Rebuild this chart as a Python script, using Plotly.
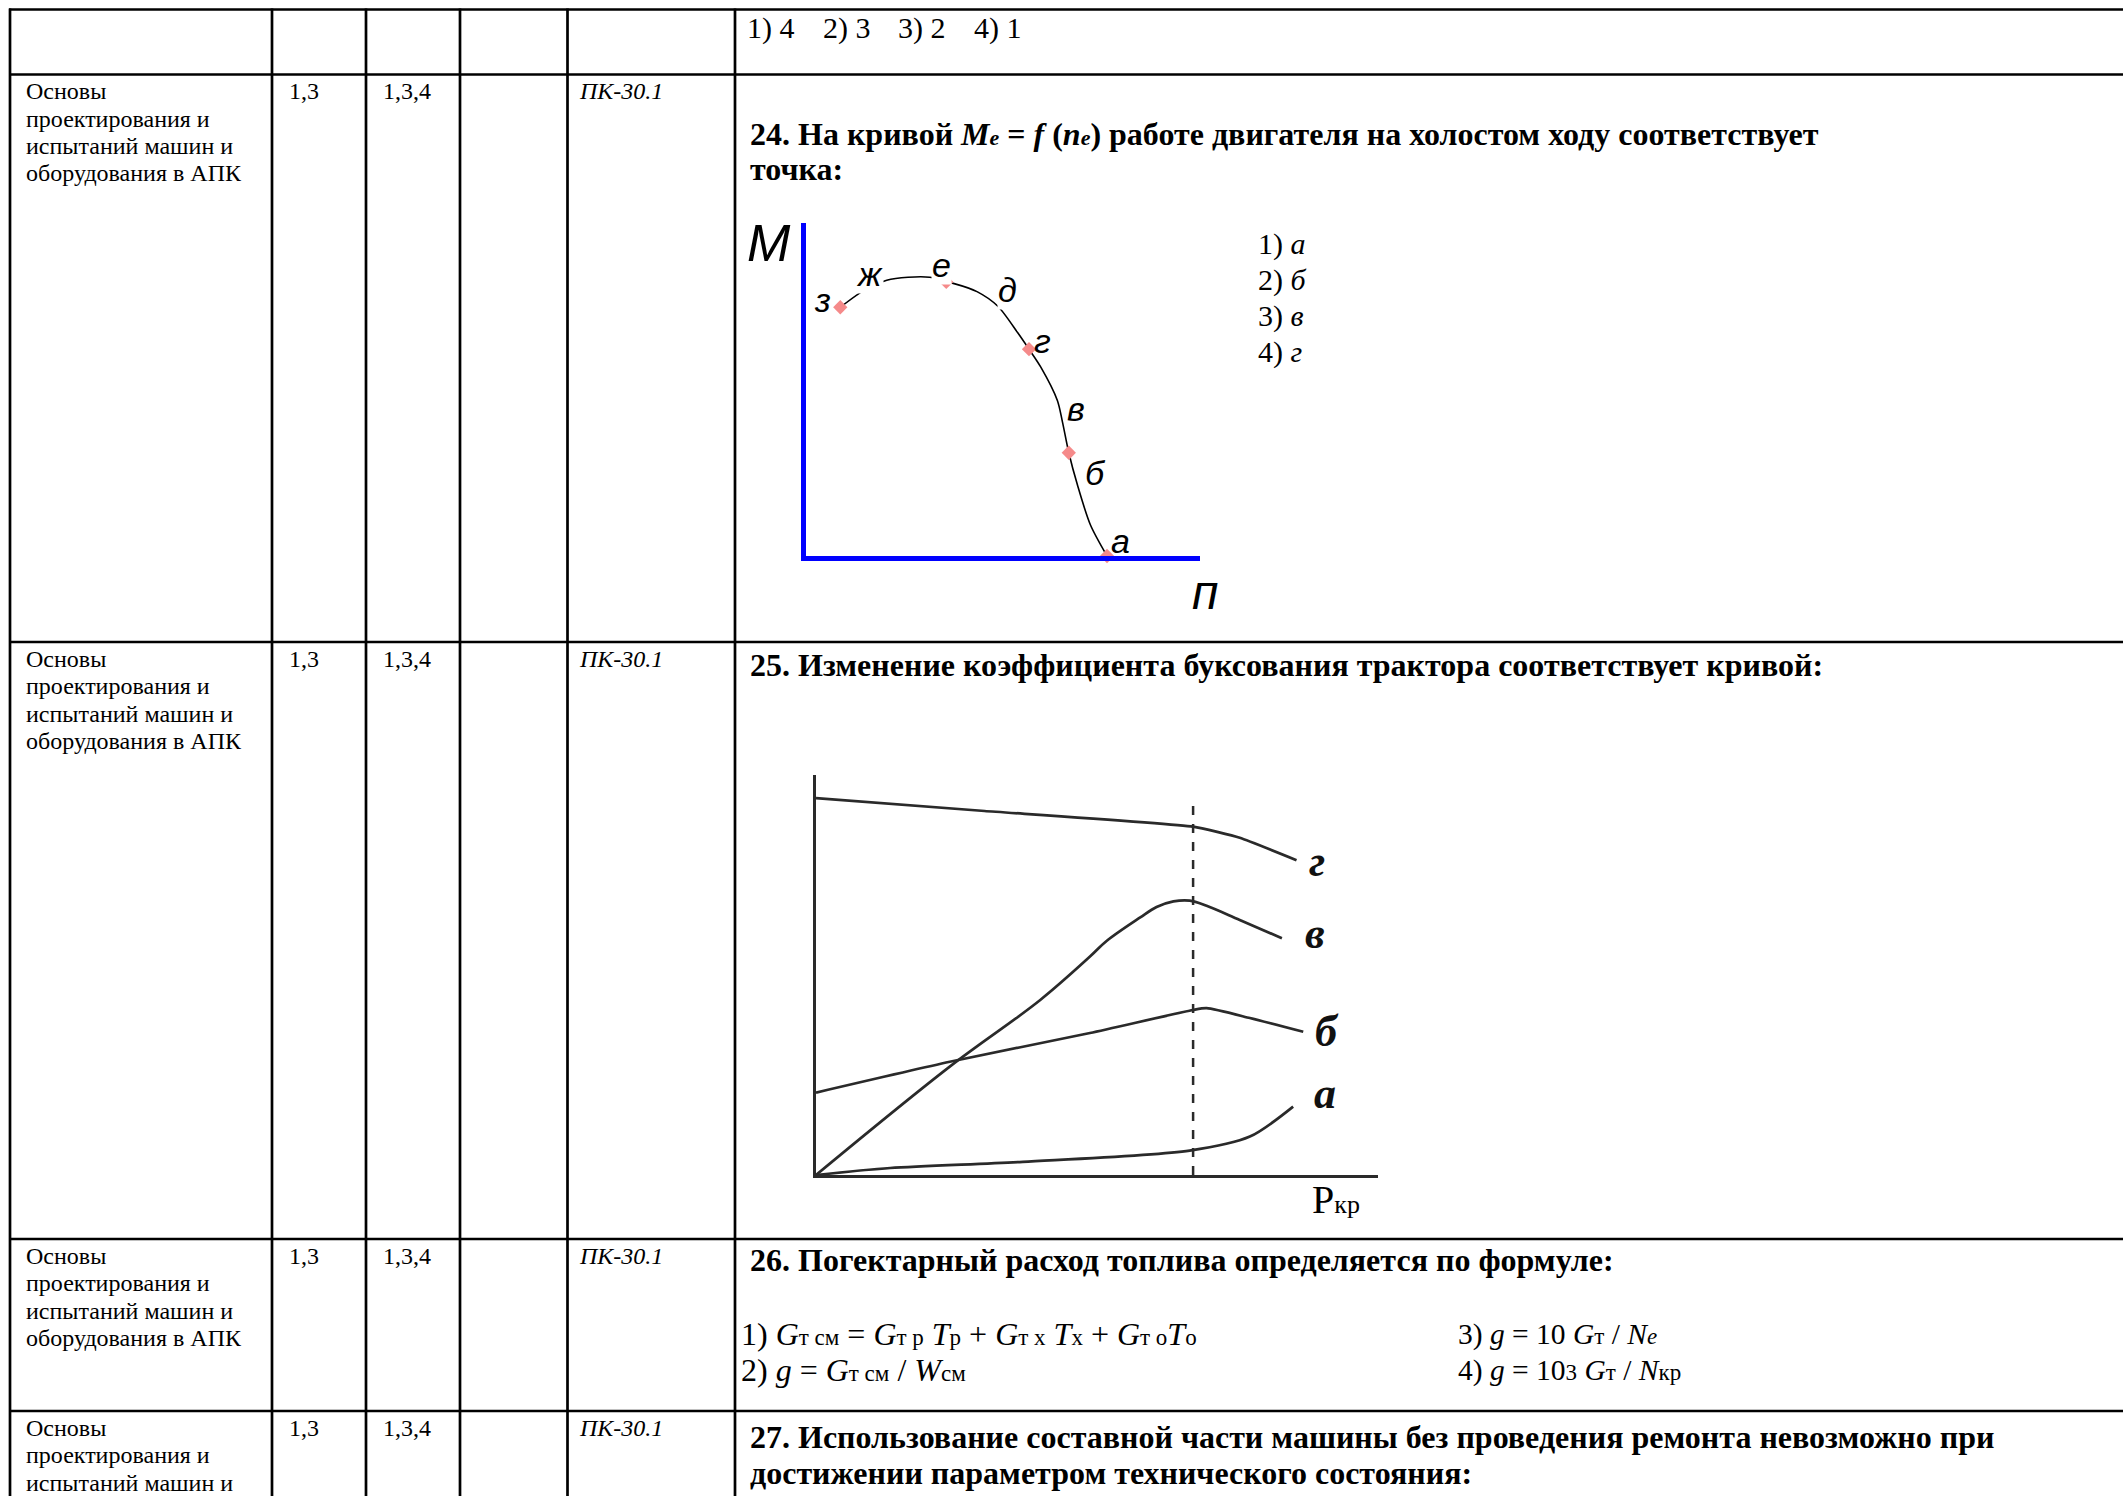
import plotly.graph_objects as go

W, H = 2123, 1496

# ---------------- data: question 24, torque curve Me = f(ne) ----------------
n_curve = [8.7, 15.0, 20.5, 25.9, 31.4, 35.6, 37.6, 43.4, 48.7, 53.7, 56.6, 59.6,
           63.8, 65.1, 66.7, 68.9, 72.2, 76.4]
M_curve = [74.7, 80.0, 82.8, 83.7, 83.7, 82.3, 81.8, 79.4, 75.0, 67.1, 62.1, 56.7,
           46.7, 40.2, 31.0, 21.3, 9.3, 0.0]
mark_n = [8.7, 35.6, 56.6, 66.7, 76.4]
mark_M = [74.7, 82.3, 62.1, 31.0, 0.0]
pt_labels = ["з", "ж", "е", "д", "г", "в", "б", "а"]
pt_lab_n = [4.2, 16.0, 34.3, 51.2, 60.0, 68.4, 73.5, 79.8]
pt_lab_M = [76.8, 84.8, 87.5, 80.0, 64.6, 44.2, 24.8, 4.4]
pt_lab_mask = [False, True, True, True, False, False, False, False]

# ---------------- data: question 25, slip curves vs Pкр ----------------
curve_names = ["г", "в", "б", "а"]
g_x = [0, 30, 67.1, 75.4, 85.5]
g_y = [94.2, 91.0, 87.1, 84.3, 78.7]
v_x = [0, 23.8, 39.9, 48.75, 51.7, 57.7, 60.6, 63.6, 66.5, 69.5, 75.4, 82.9]
v_y = [0, 27.1, 43.75, 54.6, 58.5, 64.4, 67.0, 68.4, 68.6, 67.3, 63.75, 59.2]
b_x = [0, 23.8, 48.75, 67.1, 69.5, 77.2, 86.7]
b_y = [20.6, 28.3, 35.5, 41.25, 41.7, 39.25, 35.8]
a_x = [0, 13.2, 36.8, 66.5, 77.2, 84.9]
a_y = [0, 1.75, 3.3, 6.1, 9.6, 17.1]
nominal_x = [67.1, 67.1]
nominal_y = [0, 94.25]
curve_lab_x = [89.2, 88.8, 90.9, 90.5]
curve_lab_y = [78.5, 60.3, 35.8, 20.5]

# ---------------- table text ----------------
discipline = ["Основы", "проектирования и", "испытаний машин и", "оборудования в АПК"]
col2 = "1,3"
col3 = "1,3,4"
col5 = "ПК-30.1"
answers23 = ["1) 4", "2) 3", "3) 2", "4) 1"]
E = "<span style='font-size:22px'><i>e</i></span>"
q24 = ["<b>24. На кривой <i>M</i>" + E + " = <i>f</i> (<i>n</i>" + E +
       ") работе двигателя на холостом ходу соответствует</b>",
       "<b>точка:</b>"]
opts24 = ["1) <i>а</i>", "2) <i>б</i>", "3) <i>в</i>", "4) <i>г</i>"]
q25 = "<b>25. Изменение коэффициента буксования трактора соответствует кривой:</b>"
q26 = "<b>26. Погектарный расход топлива определяется по формуле:</b>"
S = "<span style='font-size:23px'>%s</span>"
opts26 = ["1) <i>G</i>" + S % "т см" + " = <i>G</i>" + S % "т р" + " <i>T</i>" + S % "р" +
          " + <i>G</i>" + S % "т х" + " <i>T</i>" + S % "х" + " + <i>G</i>" + S % "т о" + "<i>T</i>" + S % "о",
          "2) <i>g</i> = <i>G</i>" + S % "т см" + " / <i>W</i>" + S % "см",
          "3) <i>g</i> = 10 <i>G</i>" + S % "т" + " / <i>N</i>" + S % "<i>e</i>",
          "4) <i>g</i> = 10" + S % "3" + " <i>G</i>" + S % "т" + " / <i>N</i>" + S % "кр"]
q27 = ["<b>27. Использование составной части машины без проведения ремонта невозможно при</b>",
       "<b>достижении параметром технического состояния:</b>"]


def px(x):
    return x / W


def py(y):
    return 1 - y / H


fig = go.Figure()

# question 24 plot
fig.add_trace(go.Scatter(x=n_curve, y=M_curve, mode="lines",
                         line=dict(color="black", width=1.6, shape="spline", smoothing=0.8),
                         xaxis="x", yaxis="y", cliponaxis=False, showlegend=False, hoverinfo="skip"))
fig.add_trace(go.Scatter(x=mark_n, y=mark_M, mode="markers",
                         marker=dict(symbol="diamond", size=11, color="#f58a8a"),
                         xaxis="x", yaxis="y", cliponaxis=False, showlegend=False, hoverinfo="skip"))

# question 25 plot
for xs, ys, sm in [(g_x, g_y, 0.4), (v_x, v_y, 1.0), (b_x, b_y, 0.6), (a_x, a_y, 0.8)]:
    fig.add_trace(go.Scatter(x=xs, y=ys, mode="lines",
                             line=dict(color="#2a2a2a", width=2.7, shape="spline", smoothing=sm),
                             xaxis="x2", yaxis="y2", cliponaxis=False, showlegend=False, hoverinfo="skip"))
fig.add_trace(go.Scatter(x=nominal_x, y=nominal_y, mode="lines",
                         line=dict(color="#2a2a2a", width=2.5, dash="dash"),
                         xaxis="x2", yaxis="y2", cliponaxis=False, showlegend=False, hoverinfo="skip"))

ax_common = dict(showgrid=False, zeroline=False, showticklabels=False, ticks="", range=[0, 100], fixedrange=True)
fig.update_layout(
    width=W, height=H, margin=dict(l=0, r=0, t=0, b=0),
    paper_bgcolor="white", plot_bgcolor="white",
    xaxis=dict(domain=[px(806), px(1200)], anchor="y", showline=True, linecolor="#0000ff", linewidth=4.5, **ax_common),
    yaxis=dict(domain=[py(556), py(223)], anchor="x", showline=True, linecolor="#0000ff", linewidth=4.5, **ax_common),
    xaxis2=dict(domain=[px(816), px(1378)], anchor="y2", showline=True, linecolor="#2a2a2a", linewidth=2.7, **ax_common),
    yaxis2=dict(domain=[py(1175), py(775)], anchor="x2", showline=True, linecolor="#2a2a2a", linewidth=2.7, **ax_common),
)

# table lines
shapes = []
LW = 2.7
for y in [9.5, 74.5, 642, 1239, 1411]:
    shapes.append(dict(type="line", xref="paper", yref="paper", x0=px(9), x1=1, y0=py(y), y1=py(y),
                       line=dict(color="black", width=LW)))
for x in [10, 272, 366, 460, 567.5, 735]:
    shapes.append(dict(type="line", xref="paper", yref="paper", x0=px(x), x1=px(x), y0=py(8.5), y1=0,
                       line=dict(color="black", width=LW)))
fig.update_layout(shapes=shapes)

ann = []
SERIF = "Liberation Serif"


def txt(x, y, s, size, family=SERIF, xanchor="left", color="black", **kw):
    ann.append(dict(x=px(x), y=py(y), xref="paper", yref="paper", text=s, showarrow=False,
                    xanchor=xanchor, yanchor="middle", font=dict(size=size, family=family, color=color), **kw))


# row 23 answers
for i, s in enumerate(answers23):
    txt(745 + i * 75.5, 28, s, 30)

# table columns for rows 24..27
for ytop in [74.5, 642, 1239, 1411]:
    for k, line in enumerate(discipline):
        if ytop + 16 + k * 27.3 < H:
            txt(24, ytop + 17 + k * 27.3, line, 24)
    txt(287, ytop + 17, col2, 24)
    txt(381, ytop + 17, col3, 24)
    txt(577, ytop + 17, "<i>" + col5 + "</i>", 24)

# question texts
txt(748, 134, q24[0], 32)
txt(748, 169, q24[1], 32)
for i, s in enumerate(opts24):
    txt(1256, 244 + i * 36, s, 30)
txt(748, 665, q25, 32)
txt(748, 1260, q26, 32)
txt(739, 1334, opts26[0], 32)
txt(739, 1370, opts26[1], 32)
txt(1456, 1334, opts26[2], 29.5)
txt(1456, 1370, opts26[3], 29.5)
txt(748, 1437, q27[0], 32)
txt(748, 1473, q27[1], 32)

# plot 24 axis letters and point labels
GOST = "Liberation Sans Narrow, Liberation Sans, Arial"
txt(769, 243, "<i>M</i>", 52, family=GOST, xanchor="center")
txt(1205, 592, "<i>п</i>", 48, family=GOST, xanchor="center")
for s, xv, yv, mk in zip(pt_labels, pt_lab_n, pt_lab_M, pt_lab_mask):
    a = dict(x=xv, y=yv, xref="x", yref="y", text="<i>" + s + "</i>", showarrow=False,
             xanchor="center", yanchor="middle", borderpad=0,
             font=dict(size=34, family=GOST, color="black"))
    if mk:
        a["bgcolor"] = "white"
    ann.append(a)

# plot 25 curve labels and axis title
for s, xv, yv in zip(curve_names, curve_lab_x, curve_lab_y):
    ann.append(dict(x=xv, y=yv, xref="x2", yref="y2", text="<b><i>" + s + "</i></b>", showarrow=False,
                    xanchor="center", yanchor="middle",
                    font=dict(size=44, family=SERIF, color="#111111")))
txt(1310, 1199, "P<span style='font-size:26px'>кр</span>", 40)

fig.update_layout(annotations=ann)
fig.write_html("out.html", config={"displayModeBar": False},
               post_script="document.body.style.margin='0px';")
